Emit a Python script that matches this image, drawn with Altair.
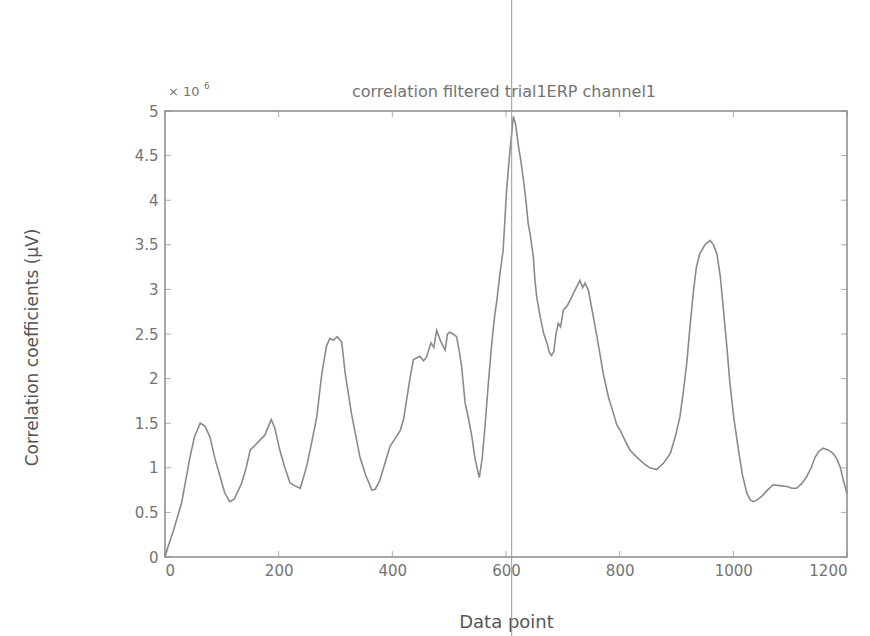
import altair as alt
import pandas as pd

# ---- data ----
point_x = [0, 5, 15, 29, 44, 52, 62, 70, 79, 88, 97, 105, 114, 122, 135, 142, 150, 158, 167, 175,
           179, 187, 193, 202, 210, 220, 228, 238, 249, 258, 267, 276, 284, 290, 296, 303, 311, 317,
           328, 336, 343, 353, 364, 370, 378, 387, 396, 405, 414, 420, 425, 431, 437, 448, 455, 460,
           468, 473, 478, 485, 493, 497, 501, 507, 513, 518, 522, 528, 534, 540, 545, 549, 553, 558,
           563, 569, 575, 580, 584, 589, 595, 601, 607, 610, 613, 617, 622, 626, 630, 635, 639, 643,
           648, 651, 654, 660, 666, 672, 676, 680, 684, 688, 692, 696, 701, 708, 716, 722, 730, 735,
           739, 745, 752, 760, 766, 771, 780, 789, 795, 801, 810, 818, 830, 842, 853, 865, 877, 889,
           898, 906, 912, 918, 924, 930, 935, 941, 950, 959, 965, 971, 977, 982, 988, 994, 1001, 1009,
           1016, 1024, 1030, 1035, 1042, 1050, 1060, 1070, 1082, 1094, 1103, 1111, 1120, 1129, 1137,
           1144, 1150, 1158, 1167, 1176, 1182, 1188, 1194, 1200]
corr_value = [0.0, 0.11, 0.3, 0.6, 1.12, 1.35, 1.50, 1.47, 1.35, 1.1, 0.9, 0.72, 0.62, 0.65, 0.83, 0.98,
              1.2, 1.25, 1.31, 1.36, 1.42, 1.54, 1.45, 1.2, 1.02, 0.83, 0.8, 0.77, 1.01, 1.28, 1.57,
              2.06, 2.36, 2.45, 2.43, 2.47, 2.41, 2.06, 1.61, 1.35, 1.12, 0.92, 0.75, 0.76, 0.86, 1.05,
              1.24, 1.33, 1.42, 1.55, 1.76, 2.0, 2.21, 2.25, 2.2, 2.24, 2.4, 2.35, 2.54, 2.42, 2.32,
              2.5, 2.52, 2.5, 2.47, 2.3, 2.13, 1.73, 1.55, 1.35, 1.12, 1.0, 0.89, 1.1, 1.46, 1.95, 2.4,
              2.7, 2.88, 3.16, 3.44, 4.11, 4.56, 4.75, 4.94, 4.85, 4.6, 4.45, 4.26, 4.0, 3.74, 3.6,
              3.37, 3.1, 2.92, 2.7, 2.51, 2.4, 2.3, 2.26, 2.3, 2.5, 2.62, 2.58, 2.77, 2.82, 2.92, 3.0,
              3.1, 3.02, 3.07, 2.99, 2.75, 2.47, 2.25, 2.06, 1.8, 1.61, 1.48, 1.42, 1.3, 1.2, 1.12,
              1.05, 1.0, 0.98, 1.05, 1.16, 1.35, 1.57, 1.85, 2.17, 2.6, 2.99, 3.25, 3.4, 3.5, 3.55,
              3.5, 3.4, 3.15, 2.81, 2.4, 1.95, 1.55, 1.2, 0.92, 0.71, 0.64, 0.62, 0.64, 0.68, 0.75,
              0.81, 0.8, 0.79, 0.77, 0.77, 0.82, 0.9, 1.0, 1.12, 1.18, 1.22, 1.2, 1.16, 1.1, 1.01,
              0.85, 0.71]
x_ticks = [0, 200, 400, 600, 800, 1000, 1200]
y_ticks = [0, 0.5, 1, 1.5, 2, 2.5, 3, 3.5, 4, 4.5, 5]
marker_x = [610]
title_text = ["correlation filtered trial1ERP channel1"]
x_title = "Data point"
y_title = "Correlation coefficients (μV)"
exp_base = ["× 10"]
exp_power = ["6"]

FONT = "DejaVu Sans"
GRAY_TXT = "#737373"
AX = "#8a8a8a"

df = pd.DataFrame({"x": point_x, "v": corr_value})
xt = pd.DataFrame({"x": x_ticks})
yt = pd.DataFrame({"y": y_ticks})
mk = pd.DataFrame({"x": marker_x})

xscale = alt.Scale(domain=[0, 1200], nice=False, zero=False)
yscale = alt.Scale(domain=[0, 5], nice=False, zero=False)

line = alt.Chart(df).mark_line(color="#8a8a8a", strokeWidth=1.6).encode(
    x=alt.X("x:Q", scale=xscale,
            axis=alt.Axis(values=x_ticks, title=x_title, format="d", grid=False, ticks=False, domain=False,
                          labelPadding=6, titleY=70, titleBaseline="alphabetic", titleFontSize=18)),
    y=alt.Y("v:Q", scale=yscale,
            axis=alt.Axis(values=y_ticks, title=y_title, format=".1~f", grid=False, ticks=False,
                          domain=False, labelPadding=7, titleX=-124, titleY=236, titleFontSize=17)),
)

tick_bottom = alt.Chart(xt).mark_tick(orient="vertical", size=6, thickness=1, color=AX, yOffset=-3).encode(
    x=alt.X("x:Q", scale=xscale), y=alt.datum(0, scale=yscale))
tick_top = alt.Chart(xt).mark_tick(orient="vertical", size=6, thickness=1, color=AX, yOffset=3).encode(
    x=alt.X("x:Q", scale=xscale), y=alt.datum(5, scale=yscale))
tick_left = alt.Chart(yt).mark_tick(orient="horizontal", size=6, thickness=1, color=AX, xOffset=3).encode(
    y=alt.Y("y:Q", scale=yscale), x=alt.datum(0, scale=xscale))
tick_right = alt.Chart(yt).mark_tick(orient="horizontal", size=6, thickness=1, color=AX, xOffset=-3).encode(
    y=alt.Y("y:Q", scale=yscale), x=alt.datum(1200, scale=xscale))

marker = alt.Chart(mk).mark_rule(color="#9a9a9a", strokeWidth=1).encode(
    x=alt.X("x:Q", scale=xscale), y=alt.value(-111), y2=alt.value(525))

title_mark = alt.Chart(pd.DataFrame({"t": title_text})).mark_text(
    align="center", baseline="alphabetic", font=FONT, fontSize=16, color=GRAY_TXT).encode(
    x=alt.value(339), y=alt.value(-14), text="t:N")
exp1 = alt.Chart(pd.DataFrame({"t": exp_base})).mark_text(
    align="left", baseline="alphabetic", font=FONT, fontSize=13, color=GRAY_TXT).encode(
    x=alt.value(3), y=alt.value(-15), text="t:N")
exp2 = alt.Chart(pd.DataFrame({"t": exp_power})).mark_text(
    align="left", baseline="alphabetic", font=FONT, fontSize=9, color=GRAY_TXT).encode(
    x=alt.value(39), y=alt.value(-22), text="t:N")

chart = alt.layer(line, tick_bottom, tick_top, tick_left, tick_right, marker,
                  title_mark, exp1, exp2).properties(
    width=682, height=446,
    padding={"left": 165, "top": 111, "right": 23, "bottom": 79},
    autosize=alt.AutoSizeParams(type="none"),
    background="white",
).configure_view(stroke=AX, strokeWidth=1.5).configure_axis(
    labelFont=FONT, labelFontSize=15, labelColor=GRAY_TXT, titleFont=FONT,
    titleFontWeight="normal", titleColor="#555555"
)

chart.save("out.html", embed_options={"renderer": "svg", "actions": False})
